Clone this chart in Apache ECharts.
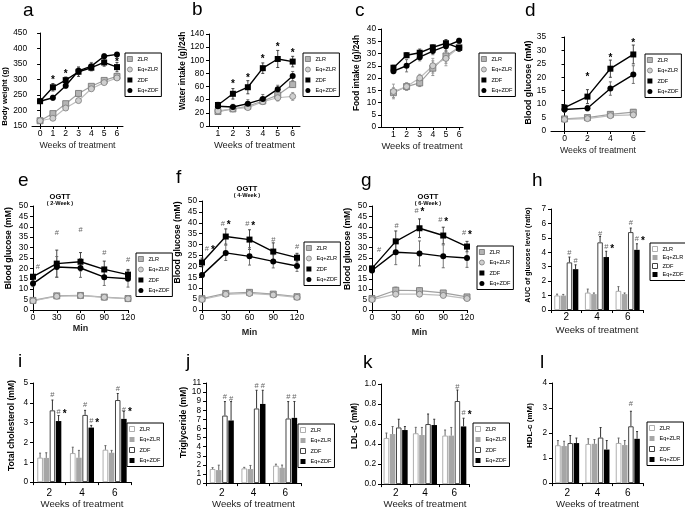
<!DOCTYPE html>
<html><head><meta charset="utf-8">
<script src="https://cdn.jsdelivr.net/npm/echarts@6/dist/echarts.min.js"></script>
<style>html,body{margin:0;padding:0;background:#fff}#c{width:685px;height:510px}</style>
</head><body><div id="c"></div>
<script>
// ---------------- DATA ----------------
const GROUPS = ['ZLR', 'Eq+ZLR', 'ZDF', 'Eq+ZDF'];

// a: body weight
const aX = [0, 1, 2, 3, 4, 5, 6];
const aZLR = [167, 190, 222, 255, 278, 297, 310];
const aEqZLR = [167, 175, 208, 232, 270, 290, 305];
const aZDF = [230, 275, 298, 325, 338, 355, 340];
const aEqZDF = [230, 241, 280, 328, 343, 375, 381];
const aErrZLR = [4, 5, 5, 6, 6, 6, 6];
const aErrEqZLR = [4, 5, 5, 6, 6, 6, 6];
const aErrZDF = [5, 12, 10, 15, 10, 12, 15];
const aErrEqZDF = [5, 8, 8, 12, 12, 8, 6];
const aMarks = [[1, 303, '*'], [2, 324, '*'], [6, 362, '*']];
const aTicks = [0, 1, 2, 3, 4, 5, 6];

// b: water intake
const bX = [1, 2, 3, 4, 5, 6];
const bZLR = [22, 26, 30, 38, 47, 63];
const bEqZLR = [23, 26, 28, 37, 43, 45];
const bZDF = [32, 49, 59, 88, 102, 98];
const bEqZDF = [30, 29, 34, 41, 56, 76];
const bErrZLR = [2, 3, 3, 4, 5, 4];
const bErrEqZLR = [2, 3, 3, 4, 5, 6];
const bErrZDF = [4, 8, 10, 8, 13, 8];
const bErrEqZDF = [4, 4, 6, 7, 6, 7];
const bMarks = [[2, 67, '*'], [3, 76, '*'], [4, 105, '*'], [5, 123, '*'], [6, 113, '*']];
const bTicks = [1, 2, 3, 4, 5, 6];

// c: food intake
const cX = [1, 2, 3, 4, 5, 6];
const cZLR = [14, 16.5, 18, 24, 29, 32.5];
const cEqZLR = [14.5, 16.5, 20, 25, 28, 32.5];
const cZDF = [24.2, 29.3, 30.3, 32.5, 34.2, 32.3];
const cEqZDF = [22.8, 25, 28.5, 31, 33, 35.2];
const cErrZLR = [2, 1.5, 1.5, 3, 3, 1.5];
const cErrEqZLR = [3, 1.5, 1.5, 3, 3, 1.5];
const cErrZDF = [1, 1, 1.5, 1, 1.5, 1.5];
const cErrEqZDF = [1, 2.5, 1.5, 1.5, 2, 1];
const cMarks = [];
const cTicks = [1, 2, 3, 4, 5, 6];

// d: blood glucose
const dX = [0, 2, 4, 6];
const dZLR = [4.5, 5, 6.2, 7];
const dEqZLR = [4.3, 4.6, 5.7, 6];
const dZDF = [8.7, 12.8, 23.2, 28.5];
const dEqZDF = [8, 8.5, 15.8, 21];
const dErrZLR = [0.5, 0.7, 0.8, 1];
const dErrEqZLR = [0.5, 0.6, 0.6, 1];
const dErrZDF = [1, 2.6, 3.2, 3.5];
const dErrEqZDF = [1, 1, 2.5, 3.3];
const dMarks = [[2, 20.8, '*'], [4, 27.8, '*'], [6, 33.4, '*']];
const dTicks = [0, 2, 4, 6];

// e: OGTT 2-week
const eX = [0, 30, 60, 90, 120];
const eZLR = [4.6, 6.8, 7, 6.2, 5.5];
const eEqZLR = [4.4, 6.6, 6.9, 6.1, 5.4];
const eZDF = [16, 22.3, 23.2, 19.5, 17];
const eEqZDF = [12.7, 20.7, 20.2, 15.8, 15];
const eErrZLR = [0.5, 0.8, 0.8, 0.6, 0.6];
const eErrEqZLR = [0.5, 0.7, 0.7, 0.6, 0.5];
const eErrZDF = [1, 6.5, 4.4, 4, 2.5];
const eErrEqZDF = [1.5, 5, 4.5, 4, 4];
const eMarks = [[6, 20.5, '#'], [30, 36.9, '#'], [60, 38.5, '#'], [90, 27.2, '#'], [120, 24, '#']];
const eTicks = [0, 30, 60, 90, 120];

// f: OGTT 4-week
const fX = [0, 30, 60, 90, 120];
const fZLR = [5.2, 7.6, 8.1, 7.3, 6.1];
const fEqZLR = [4.8, 7.2, 7.6, 6.9, 5.8];
const fZDF = [21.8, 33.7, 32.3, 26.8, 24];
const fEqZDF = [16, 26.2, 24.6, 22.3, 20.2];
const fErrZLR = [0.8, 1, 1.2, 1, 0.8];
const fErrEqZLR = [0.8, 1, 1.2, 1, 0.8];
const fErrZDF = [2, 3.5, 4.5, 4, 2];
const fErrEqZDF = [1, 3.5, 4, 3, 2.5];
const fMarks = [[10, 28.2, '#*'], [30, 39.6, '#*'], [61, 39.3, '#*'], [90, 32, '#'], [120, 28.7, '#']];
const fTicks = [0, 30, 60, 90, 120];

// g: OGTT 6-week
const gX = [0, 30, 60, 90, 120];
const gZLR = [5.5, 9.5, 9.3, 8.2, 6.3];
const gEqZLR = [5, 7.6, 7.6, 7, 5.5];
const gZDF = [20, 33, 39.3, 35.8, 30.5];
const gEqZDF = [19, 27.8, 27.2, 25.8, 25];
const gErrZLR = [1, 1.5, 1.2, 1, 0.8];
const gErrEqZLR = [0.8, 1, 1, 1, 0.8];
const gErrZDF = [1, 5, 4.5, 4, 2.5];
const gErrEqZDF = [1, 6, 6, 5.5, 4.5];
const gMarks = [[9, 28.8, '#'], [31, 40.5, '#'], [60, 47.8, '#*'], [90, 43.3, '#*'], [120, 36.9, '#*']];
const gTicks = [0, 30, 60, 90, 120];

// bar panels: categories = weeks
const weekCats = ['2', '4', '6'];

// h: AUC of glucose
const hZLR = [1.0, 1.2, 1.32];
const hEqZLR = [1.0, 1.1, 1.1];
const hZDF = [3.3, 4.69, 5.4];
const hEqZDF = [2.83, 3.67, 4.17];
const hErrZLR = [0.1, 0.25, 0.3];
const hErrEqZLR = [0.08, 0.08, 0.08];
const hErrZDF = [0.37, 0.4, 0.28];
const hErrEqZDF = [0.3, 0.4, 0.42];
const hMarks = [[0, 2, 3.95, '#'], [0, 3, 3.4, '#'], [1, 2, 5.3, '#'], [1, 3, 4.36, '#*'], [2, 2, 6.05, '#'], [2, 3, 4.9, '#*']];

// i: total cholesterol
const iZLR = [1.23, 1.46, 1.63];
const iEqZLR = [1.22, 1.23, 1.48];
const iZDF = [3.62, 3.39, 4.14];
const iEqZDF = [3.08, 2.75, 3.19];
const iErrZLR = [0.23, 0.3, 0.21];
const iErrEqZLR = [0.26, 0.37, 0.12];
const iErrZDF = [0.52, 0.23, 0.33];
const iErrEqZDF = [0.28, 0.11, 0.38];
const iMarks = [[0, 2, 4.4, '#'], [0, 3, 3.52, '#*'], [1, 2, 3.9, '#'], [1, 3, 3.08, '#*'], [2, 2, 4.72, '#'], [2, 3, 3.65, '#*']];

// j: triglyceride
const jZLR = [1.54, 1.61, 1.9];
const jEqZLR = [1.43, 1.54, 1.68];
const jZDF = [7.42, 8.2, 7.1];
const jEqZDF = [6.88, 8.7, 7.17];
const jErrZLR = [0.16, 0.12, 0.18];
const jErrEqZLR = [0.54, 0.4, 0.3];
const jErrZDF = [1.54, 2.0, 1.86];
const jErrEqZDF = [2.08, 1.5, 1.8];
const jMarks = [[0, 2, 9.42, '#'], [0, 3, 9.3, '#'], [1, 2, 10.64, '#'], [1, 3, 10.64, '#'], [2, 2, 9.42, '#'], [2, 3, 9.42, '#']];

// k: LDL-c
const kZLR = [0.46, 0.507, 0.484];
const kEqZLR = [0.5, 0.49, 0.484];
const kZDF = [0.566, 0.6, 0.83];
const kEqZDF = [0.54, 0.59, 0.576];
const kErrZLR = [0.05, 0.06, 0.056];
const kErrEqZLR = [0.075, 0.076, 0.082];
const kErrZDF = [0.082, 0.1, 0.11];
const kErrEqZDF = [0.035, 0.058, 0.082];
const kMarks = [[2, 2, 0.97, '#'], [2, 3, 0.71, '#*']];

// l: HDL-c
const lZLR = [1.51, 1.56, 1.6];
const lEqZLR = [1.48, 1.57, 1.52];
const lZDF = [1.6, 1.82, 2.27];
const lEqZDF = [1.6, 1.34, 1.77];
const lErrZLR = [0.19, 0.21, 0.2];
const lErrEqZLR = [0.19, 0.17, 0.18];
const lErrZDF = [0.3, 0.4, 0.6];
const lErrEqZDF = [0.2, 0.36, 0.29];
const lMarks = [[2, 2, 3.15, '#']];

// ---------------- STYLE / BUILD ----------------
const FONT = '"Liberation Sans", Arial, sans-serif';
const option = {
  animation: false, backgroundColor: '#fff', textStyle: {fontFamily: FONT},
  grid: [], xAxis: [], yAxis: [], series: [], legend: [], graphic: []
};

const LINE_STYLES = [
  {symbol: 'rect', item: {color: '#b4b4b4', borderColor: '#6e6e6e', borderWidth: 0.8}, line: {color: '#a0a0a0', width: 1.2}, err: '#888', z: 3},
  {symbol: 'circle', item: {color: '#cfcfcf', borderColor: '#7a7a7a', borderWidth: 0.8}, line: {color: '#bdbdbd', width: 1.2}, err: '#999', z: 3},
  {symbol: 'rect', item: {color: '#000', borderColor: '#000', borderWidth: 0}, line: {color: '#000', width: 1.4}, err: '#333', z: 4},
  {symbol: 'circle', item: {color: '#000', borderColor: '#000', borderWidth: 0}, line: {color: '#000', width: 1.4}, err: '#666', z: 4}
];
const BAR_STYLES = [
  {color: '#fff', borderColor: '#9a9a9a', borderWidth: 0.8},
  {color: '#a6a6a6', borderColor: '#a6a6a6', borderWidth: 0},
  {color: '#fff', borderColor: '#444', borderWidth: 1},
  {color: '#000', borderColor: '#000', borderWidth: 0}
];

function yAxisCfg(gi, c) {
  const s = c.ynShift || 0;
  return {
    gridIndex: gi, type: 'value', min: c.ymin, max: c.ymax, interval: c.yint,
    axisLine: {show: true, lineStyle: {color: '#000', width: 1}},
    axisTick: {show: true, length: 3, lineStyle: {color: '#000'}},
    axisLabel: {fontSize: 8.3, color: '#000', margin: 5, fontFamily: FONT, formatter: c.yfmt || '{value}'},
    splitLine: {show: false},
    name: c.yname, nameLocation: 'middle', nameGap: c.ynGap,
    nameTextStyle: {fontSize: c.ynSize, fontWeight: 'bold', color: '#000', fontFamily: FONT,
      padding: s > 0 ? [0, 2 * s, 0, 0] : [0, 0, 0, -2 * s]}
  };
}
function xNameStyle(c) {
  return {fontSize: c.xnSize, fontWeight: c.xnBold ? 'bold' : 'normal', color: '#222', fontFamily: FONT};
}
function addGrid(g) {
  option.grid.push({left: g[0], top: g[1], width: g[2], height: g[3]});
  return option.grid.length - 1;
}
function addLegend(c, gi, styles, isBar) {
  option.legend.push({
    left: c.legend[0], top: c.legend[1], orient: 'vertical', selectedMode: false,
    borderColor: '#000', borderWidth: 1, padding: [3, 3, 3, 2], itemGap: c.legendGap || 4.5,
    itemWidth: 5, itemHeight: 5, textStyle: {fontSize: 5.6, color: '#000', fontFamily: FONT},
    formatter: n => n.split('|')[0],
    data: GROUPS.map((gname, k) => ({
      name: gname + '|' + c.id,
      icon: isBar ? 'rect' : styles[k].symbol,
      itemStyle: isBar ? styles[k] : styles[k].item
    }))
  });
}
function addLetter(c) {
  option.graphic.push({type: 'text', x: c.letter[0], y: c.letter[1], silent: true,
    style: {text: c.id, fontSize: 19, fontFamily: FONT, fill: '#000', align: 'left', verticalAlign: 'middle'}});
}
function markChildren(cx, cy, txt) {
  const out = [];
  const hashStyle = (x) => ({type: 'text', style: {x: x, y: cy, text: '#', fontSize: 7.5, fontFamily: FONT, fill: '#666', align: 'center', verticalAlign: 'middle'}});
  const starStyle = (x) => ({type: 'text', style: {x: x, y: cy + 2, text: '*', fontSize: 10, fontWeight: 'bold', fontFamily: FONT, fill: '#000', align: 'center', verticalAlign: 'middle'}});
  if (txt === '#') out.push(hashStyle(cx));
  else if (txt === '*') out.push(starStyle(cx));
  else { out.push(hashStyle(cx - 3)); out.push(starStyle(cx + 3)); }
  return out;
}

function linePanel(c) {
  const gi = addGrid(c.grid);
  option.xAxis.push({
    gridIndex: gi, type: 'value', min: c.xmin, max: c.xmax,
    axisLine: {show: true, onZero: false, lineStyle: {color: '#000', width: 1}},
    axisTick: {show: true, length: 3, customValues: c.ticks, lineStyle: {color: '#000'}},
    axisLabel: {customValues: c.ticks, fontSize: 8.6, color: '#000', margin: c.xlMargin || 3, fontFamily: FONT},
    splitLine: {show: false},
    name: c.xname, nameLocation: 'middle', nameGap: c.xnGap, nameTextStyle: xNameStyle(c)
  });
  option.yAxis.push(yAxisCfg(gi, c));
  c.vals.forEach((vals, k) => {
    const st = LINE_STYLES[k];
    const errs = c.errs[k];
    option.series.push({
      type: 'custom', xAxisIndex: gi, yAxisIndex: gi, silent: true, z: 1,
      data: c.x.map((x, i) => [x, vals[i], errs[i]]), encode: {x: 0, y: 1},
      renderItem: (params, api) => {
        const x = api.value(0), m = api.value(1), e = api.value(2);
        const lo = api.coord([x, m - e]), hi = api.coord([x, m + e]);
        const ls = {stroke: st.err, lineWidth: 0.9};
        return {type: 'group', children: [
          {type: 'line', shape: {x1: lo[0], y1: lo[1], x2: hi[0], y2: hi[1]}, style: ls},
          {type: 'line', shape: {x1: hi[0] - 1.5, y1: hi[1], x2: hi[0] + 1.5, y2: hi[1]}, style: ls},
          {type: 'line', shape: {x1: lo[0] - 1.5, y1: lo[1], x2: lo[0] + 1.5, y2: lo[1]}, style: ls}
        ]};
      }
    });
  });
  c.vals.forEach((vals, k) => {
    const st = LINE_STYLES[k];
    option.series.push({
      type: 'line', name: GROUPS[k] + '|' + c.id, xAxisIndex: gi, yAxisIndex: gi,
      data: c.x.map((x, i) => [x, vals[i]]), symbol: st.symbol, symbolSize: c.symSize || 6,
      itemStyle: st.item, lineStyle: st.line, z: st.z, emphasis: {disabled: true}
    });
  });
  if (c.marks.length) {
    option.series.push({
      type: 'custom', xAxisIndex: gi, yAxisIndex: gi, silent: true, z: 6,
      data: c.marks.map(m => [m[0], m[1]]), encode: {x: 0, y: 1},
      renderItem: (params, api) => {
        const p = api.coord([api.value(0), api.value(1)]);
        return {type: 'group', children: markChildren(p[0], p[1], c.marks[params.dataIndex][2])};
      }
    });
  }
  addLegend(c, gi, LINE_STYLES, false);
  addLetter(c);
  if (c.title) {
    option.graphic.push({type: 'text', x: c.title[0], y: c.title[1], silent: true,
      style: {text: 'OGTT', fontSize: 7.5, fontWeight: 'bold', fontFamily: FONT, fill: '#000', align: 'center', verticalAlign: 'middle'}});
    option.graphic.push({type: 'text', x: c.title[0], y: c.title[1] + 6.5, silent: true,
      style: {text: c.subtitle, fontSize: 5.6, fontWeight: 'bold', fontFamily: FONT, fill: '#000', align: 'center', verticalAlign: 'middle'}});
  }
}

function barPanel(c) {
  const gi = addGrid(c.grid);
  const bw = c.bw || 5.5, step = bw * 1.12;
  option.xAxis.push({
    gridIndex: gi, type: 'category', data: weekCats,
    axisLine: {show: true, lineStyle: {color: '#000', width: 1}},
    axisTick: {show: true, length: 3, lineStyle: {color: '#000'}},
    axisLabel: {fontSize: 10, color: '#000', margin: c.xlMargin || 4, fontFamily: FONT},
    name: c.xname, nameLocation: 'middle', nameGap: c.xnGap, nameTextStyle: xNameStyle(c)
  });
  option.yAxis.push(yAxisCfg(gi, c));
  c.vals.forEach((vals, k) => {
    option.series.push({
      type: 'bar', name: GROUPS[k] + '|' + c.id, xAxisIndex: gi, yAxisIndex: gi,
      data: vals, barWidth: bw, barGap: '12%', itemStyle: BAR_STYLES[k], z: 2, emphasis: {disabled: true}
    });
  });
  c.vals.forEach((vals, k) => {
    const errs = c.errs[k];
    option.series.push({
      type: 'custom', xAxisIndex: gi, yAxisIndex: gi, silent: true, z: 3,
      data: vals.map((v, i) => [i, v, errs[i]]), encode: {x: 0, y: 1},
      renderItem: (params, api) => {
        const ci = api.value(0), m = api.value(1), e = api.value(2);
        const lo = api.coord([ci, m]), hi = api.coord([ci, m + e]);
        const x = lo[0] + (k - 1.5) * step;
        const col = k >= 2 ? '#333' : '#666';
        return {type: 'group', children: [
          {type: 'line', shape: {x1: x, y1: lo[1], x2: x, y2: hi[1]}, style: {stroke: col, lineWidth: 1}},
          {type: 'line', shape: {x1: x - 1, y1: hi[1], x2: x + 1, y2: hi[1]}, style: {stroke: col, lineWidth: 1}}
        ]};
      }
    });
  });
  if (c.marks.length) {
    option.series.push({
      type: 'custom', xAxisIndex: gi, yAxisIndex: gi, silent: true, z: 6,
      data: c.marks.map(m => [m[0], m[2]]), encode: {x: 0, y: 1},
      renderItem: (params, api) => {
        const mk = c.marks[params.dataIndex];
        const p = api.coord([api.value(0), api.value(1)]);
        const bx = p[0] + (mk[1] - 1.5) * step;
        return {type: 'group', children: markChildren(mk[3] === '#*' ? bx + 3 : bx, p[1], mk[3])};
      }
    });
  }
  addLegend(c, gi, BAR_STYLES, true);
  addLetter(c);
}

const WEEKS = 'Weeks of treatment';
linePanel({id: 'a', grid: [32, 33, 91, 93], x: aX, ticks: aTicks, xmin: -0.63, xmax: 6.47,
  vals: [aZLR, aEqZLR, aZDF, aEqZDF], errs: [aErrZLR, aErrEqZLR, aErrZDF, aErrEqZDF], marks: aMarks,
  ymin: 150, ymax: 450, yint: 50, yname: 'Body weight (g)', ynSize: 7.8, ynGap: 21, ynShift: 17,
  xname: WEEKS, xnSize: 8.8, xnGap: 15, legend: [125, 53], letter: [23, 11]});
linePanel({id: 'b', grid: [209, 34, 91, 92], x: bX, ticks: bTicks, xmin: 0.4, xmax: 6.49,
  vals: [bZLR, bEqZLR, bZDF, bEqZDF], errs: [bErrZLR, bErrEqZLR, bErrZDF, bErrEqZDF], marks: bMarks,
  ymin: 0, ymax: 140, yint: 20, yname: 'Water intake (g)/24h', ynSize: 8.3, ynGap: 22, ynShift: -9,
  xname: WEEKS, xnSize: 9.4, xnGap: 15, legend: [303, 53], letter: [192, 10]});
linePanel({id: 'c', grid: [381, 29, 82, 98], x: cX, ticks: cTicks, xmin: 0.05, xmax: 6.3,
  vals: [cZLR, cEqZLR, cZDF, cEqZDF], errs: [cErrZLR, cErrEqZLR, cErrZDF, cErrEqZDF], marks: cMarks,
  ymin: 0, ymax: 40, yint: 5, yname: 'Food intake (g)/24h', ynSize: 8.3, ynGap: 20, ynShift: -5,
  xname: WEEKS, xnSize: 9.4, xnGap: 15, legend: [479, 53], letter: [355, 11]});
linePanel({id: 'd', grid: [551, 37, 94, 94], x: dX, ticks: dTicks, xmin: -1.18, xmax: 7.02,
  vals: [dZLR, dEqZLR, dZDF, dEqZDF], errs: [dErrZLR, dErrEqZLR, dErrZDF, dErrEqZDF], marks: dMarks,
  ymin: 0, ymax: 35, yint: 5, yname: 'Blood glucose (mM)', ynSize: 8.8, ynGap: 18, ynShift: -1.5,
  xname: WEEKS, xnSize: 8.8, xnGap: 15, legend: [645, 54], letter: [525, 11]});
linePanel({id: 'e', grid: [33, 206, 95, 104], x: eX, ticks: eTicks, xmin: 0, xmax: 120,
  vals: [eZLR, eEqZLR, eZDF, eEqZDF], errs: [eErrZLR, eErrEqZLR, eErrZDF, eErrEqZDF], marks: eMarks,
  ymin: 0, ymax: 50, yint: 5, yname: 'Blood glucose (mM)', ynSize: 8.6, ynGap: 20, ynShift: -9.7,
  xname: 'Min', xnBold: true, xnSize: 9, xnGap: 14, legend: [136, 253], letter: [18, 181],
  title: [60, 197], subtitle: '( 2-Week )'});
linePanel({id: 'f', grid: [202, 201, 95, 109], x: fX, ticks: fTicks, xmin: 0, xmax: 120,
  vals: [fZLR, fEqZLR, fZDF, fEqZDF], errs: [fErrZLR, fErrEqZLR, fErrZDF, fErrEqZDF], marks: fMarks,
  ymin: 0, ymax: 50, yint: 5, yname: 'Blood glucose (mM)', ynSize: 8.6, ynGap: 19.5, ynShift: -13,
  xname: 'Min', xnBold: true, xnSize: 9, xnGap: 18, legend: [304, 242], letter: [176, 178],
  title: [247, 189], subtitle: '( 4-Week )'});
linePanel({id: 'g', grid: [372, 206, 95, 104], x: gX, ticks: gTicks, xmin: 0, xmax: 120,
  vals: [gZLR, gEqZLR, gZDF, gEqZDF], errs: [gErrZLR, gErrEqZLR, gErrZDF, gErrEqZDF], marks: gMarks,
  ymin: 0, ymax: 50, yint: 5, yname: 'Blood glucose (mM)', ynSize: 8.6, ynGap: 19.5, ynShift: -9,
  xname: 'Min', xnBold: true, xnSize: 9, xnGap: 18, legend: [477, 246], letter: [361, 181],
  title: [428, 197], subtitle: '( 6-Week )'});
barPanel({id: 'h', grid: [551, 209, 92, 101], vals: [hZLR, hEqZLR, hZDF, hEqZDF],
  errs: [hErrZLR, hErrEqZLR, hErrZDF, hErrEqZDF], marks: hMarks,
  ymin: 0, ymax: 7, yint: 1, yname: 'AUC of glucose level (ratio)', ynSize: 7.3, ynGap: 20, ynShift: -4.5,
  xname: WEEKS, xnSize: 9.6, xnGap: 15, xlMargin: 2, legend: [650, 243], legendGap: 2.5, letter: [532, 181]});
barPanel({id: 'i', grid: [33, 383, 98, 101], vals: [iZLR, iEqZLR, iZDF, iEqZDF],
  errs: [iErrZLR, iErrEqZLR, iErrZDF, iErrEqZDF], marks: iMarks,
  ymin: 0, ymax: 5, yint: 1, yname: 'Total cholesterol (mM)', ynSize: 8.6, ynGap: 16.5, ynShift: -7,
  xname: WEEKS, xnSize: 9.6, xnGap: 15, xlMargin: 6, legend: [127, 423], letter: [18, 362]});
barPanel({id: 'j', grid: [206, 383, 95, 102], vals: [jZLR, jEqZLR, jZDF, jEqZDF],
  errs: [jErrZLR, jErrEqZLR, jErrZDF, jErrEqZDF], marks: jMarks,
  ymin: 0, ymax: 11, yint: 1, yname: 'Triglyceride (mM)', ynSize: 8.6, ynGap: 18, ynShift: -10.7,
  xname: WEEKS, xnSize: 9.6, xnGap: 14, xlMargin: 5, legend: [298, 424], letter: [186, 362]});
barPanel({id: 'k', grid: [381, 384, 88, 102], vals: [kZLR, kEqZLR, kZDF, kEqZDF],
  errs: [kErrZLR, kErrEqZLR, kErrZDF, kErrEqZDF], marks: kMarks, yfmt: v => v.toFixed(1),
  ymin: 0, ymax: 1, yint: 0.2, yname: 'LDL-c (mM)', ynSize: 8.4, ynGap: 22, ynShift: -8,
  xname: WEEKS, xnSize: 9.6, xnGap: 13, xlMargin: 4, legend: [473, 423], letter: [363, 363]});
barPanel({id: 'l', grid: [552, 383, 91, 102], vals: [lZLR, lEqZLR, lZDF, lEqZDF],
  errs: [lErrZLR, lErrEqZLR, lErrZDF, lErrEqZDF], marks: lMarks,
  ymin: 0, ymax: 4, yint: 1, yname: 'HDL-c (mM)', ynSize: 8, ynGap: 18, ynShift: -7.5,
  xname: WEEKS, xnSize: 9.6, xnGap: 14, xlMargin: 5, legend: [647, 422], letter: [540, 363]});

const chart = echarts.init(document.getElementById('c'), null, {renderer: 'canvas'});
chart.setOption(option);
</script></body></html>
